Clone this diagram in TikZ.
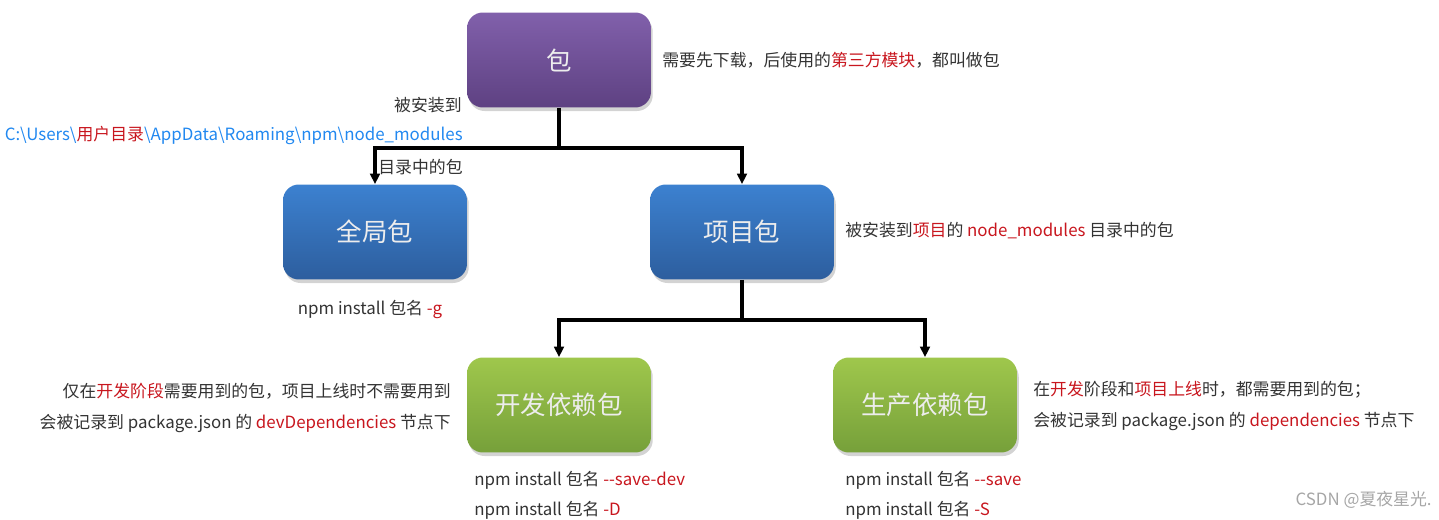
\documentclass[tikz,border=0pt]{standalone}
\usepackage{fontspec}
\setmainfont{Noto Sans CJK SC}
\usetikzlibrary{arrows.meta,shadows}

\definecolor{txtgray}{HTML}{333333}
\definecolor{hlred}{HTML}{C8161E}
\definecolor{pathblue}{HTML}{2188F0}
\definecolor{purpletop}{HTML}{8160AB}
\definecolor{purplebot}{HTML}{5E4182}
\definecolor{bluetop}{HTML}{3C81D0}
\definecolor{bluebot}{HTML}{2D5E9E}
\definecolor{greentop}{HTML}{9FC74C}
\definecolor{greenbot}{HTML}{76A03A}

\newcommand{\hl}[1]{{\color{hlred}#1}}

\begin{document}
\begin{tikzpicture}[
        x=0.02cm, y=-0.02cm,
        pkg/.style={rectangle, rounded corners=9pt, minimum width=3.68cm, minimum height=1.9cm,
            text=white!93!black, font=\fontsize{14.5}{17}\selectfont,
            drop shadow={shadow xshift=1pt, shadow yshift=-2pt, opacity=0.35}},
        note/.style={text=txtgray, font=\fontsize{9.6}{12}\selectfont, inner sep=0pt},
        link/.style={line width=1.8pt},
        arrow/.style={link, -{Triangle[length=6pt, width=5.5pt]}}
    ]
        \useasboundingbox (0,0) rectangle (1439,520);

        % Boxes
        \node[pkg, top color=purpletop, bottom color=purplebot] (bao) at (559,60) {包};
        \node[pkg, top color=bluetop, bottom color=bluebot] (global) at (375,232) {全局包};
        \node[pkg, top color=bluetop, bottom color=bluebot] (project) at (742,232) {项目包};
        \node[pkg, top color=greentop, bottom color=greenbot] (dev) at (559,405) {开发依赖包};
        \node[pkg, top color=greentop, bottom color=greenbot] (prod) at (925,405) {生产依赖包};

        % Connections
        \coordinate (split1) at (559,148);
        \coordinate (split2) at (742,320);
        \draw[link] (bao) -- (split1);
        \draw[arrow] (split1) -| (global);
        \draw[arrow] (split1) -| (project);
        \draw[link] (project) -- (split2);
        \draw[arrow] (split2) -| (dev);
        \draw[arrow] (split2) -| (prod);

        % Notes for the packages
        \node[note, anchor=west] (baonote) at (662,60) {需要先下载，后使用的\hl{第三方模块}，都叫做包};
        \node[note, anchor=east] (installto) at (462,105) {被安装到};
        \node[note, anchor=east, text=pathblue] (globalpath) at (463,135)
            {C:\textbackslash Users\textbackslash\hl{用户目录}\textbackslash AppData\textbackslash Roaming\textbackslash npm\textbackslash node\_modules};
        \node[note, anchor=west] (dirpkg) at (378,167) {目录中的包};
        \node[note] (globalcmd) at (370,309) {npm install 包名 \hl{-g}};
        \node[note, anchor=west] (projectnote) at (845,231) {被安装到\hl{项目}的 \hl{node\_modules} 目录中的包};

        % Notes for the dependencies
        \node[note, anchor=east] (devnote1) at (451,391) {仅在\hl{开发阶段}需要用到的包，项目上线时不需要用到};
        \node[note, anchor=east] (devnote2) at (451,423) {会被记录到 package.json 的 \hl{devDependencies} 节点下};
        \node[note, anchor=west] (devcmd1) at (474,480) {npm install 包名 \hl{-{}-save-dev}};
        \node[note, anchor=west] (devcmd2) at (474,510) {npm install 包名 \hl{-D}};
        \node[note, anchor=west] (prodnote1) at (1033,390) {在\hl{开发}阶段和\hl{项目上线}时，都需要用到的包；};
        \node[note, anchor=west] (prodnote2) at (1033,421) {会被记录到 package.json 的 \hl{dependencies} 节点下};
        \node[note, anchor=west] (prodcmd1) at (845,480) {npm install 包名 \hl{-{}-save}};
        \node[note, anchor=west] (prodcmd2) at (845,510) {npm install 包名 \hl{-S}};

        \node[note, anchor=east, text=black!35] (mark) at (1432,500) {CSDN @夏夜星光.};
\end{tikzpicture}
\end{document}
